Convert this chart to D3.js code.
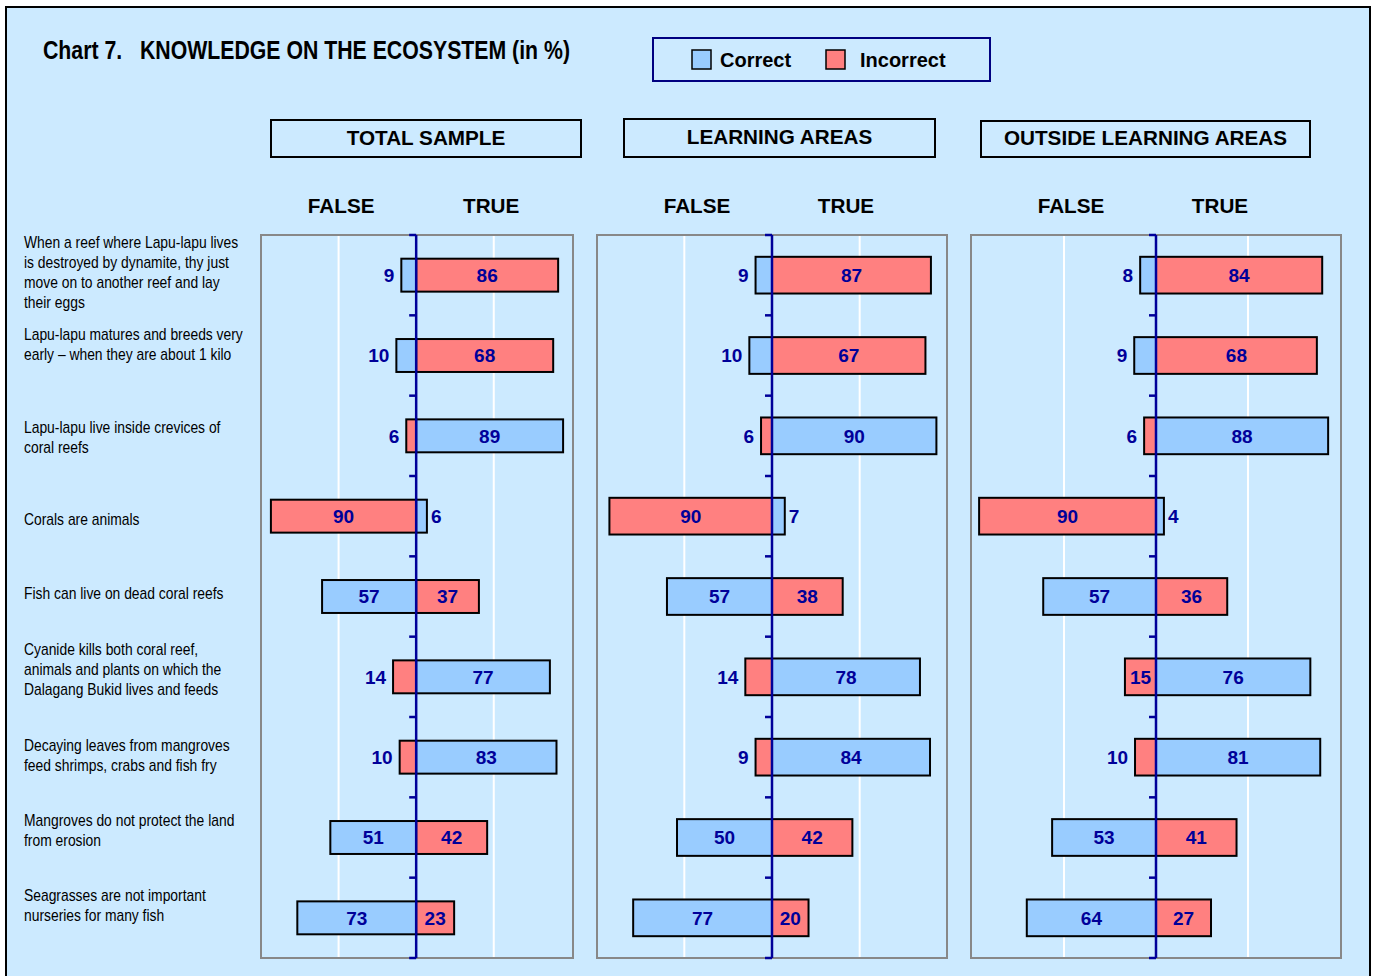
<!DOCTYPE html>
<html>
<head>
<meta charset="utf-8">
<script src="https://cdn.jsdelivr.net/npm/d3@7"></script>
<style>
  body { margin: 0; background: #fff; }
  svg { display: block; }
</style>
</head>
<body>
<svg id="chart" width="1379" height="976"></svg>
<script>
// statements (one per row), split in lines
var statements = [
    ["When a reef where Lapu-lapu lives", "is destroyed by dynamite, thy just", "move on to another reef and lay", "their eggs"],
    ["Lapu-lapu matures and breeds very", "early \u2013 when they are about 1 kilo"],
    ["Lapu-lapu live inside crevices of", "coral reefs"],
    ["Corals are animals"],
    ["Fish can live on dead coral reefs"],
    ["Cyanide kills both coral reef,", "animals and plants on which the", "Dalagang Bukid lives and feeds"],
    ["Decaying leaves from mangroves", "feed shrimps, crabs and fish fry"],
    ["Mangroves do not protect the land", "from erosion"],
    ["Seagrasses are not important", "nurseries for many fish"]
];

// is the right answer TRUE ?
var answerTrue = [false, false, true, true, false, true, true, false, false];

// % answering FALSE / TRUE (printed labels)
var totalFalse = [9, 10, 6, 90, 57, 14, 10, 51, 73];
var totalTrue = [86, 68, 89, 6, 37, 77, 83, 42, 23];
var learningFalse = [9, 10, 6, 90, 57, 14, 9, 50, 77];
var learningTrue = [87, 67, 90, 7, 38, 78, 84, 42, 20];
var outsideFalse = [8, 9, 6, 90, 57, 15, 10, 53, 64];
var outsideTrue = [84, 68, 88, 4, 36, 76, 81, 41, 27];

// bar lengths as drawn in the source chart (some differ from the printed labels)
var totalFalseBar = [9, 12, 6, 88, 57, 14, 10, 52, 72];
var totalTrueBar = [86, 83, 89, 6.5, 38, 81, 85, 43, 23];
var learningFalseBar = [9, 12.4, 6, 89, 57.5, 14.6, 9, 52, 76];
var learningTrueBar = [87, 84, 90, 7, 38.7, 81, 86.5, 44, 20];
var outsideFalseBar = [8, 11, 6, 89.4, 57, 15.7, 10.6, 52.5, 65.3];
var outsideTrueBar = [84, 81.3, 87, 4, 36, 78, 83, 40.7, 27.8];

var panelTitles = ["TOTAL SAMPLE", "LEARNING AREAS", "OUTSIDE LEARNING AREAS"];
var legendLabels = ["Correct", "Incorrect"];
var sideLabels = ["FALSE", "TRUE"];

var CORRECT = "#99ccff", WRONG = "#ff8080", NAVY = "#000099";
var BG = "#cceaff";
var FONT = "'Liberation Sans', Arial, sans-serif";

var svg = d3.select("#chart");

// outer frame
svg.append("rect")
    .attr("x", 6).attr("y", 7)
    .attr("width", 1364).attr("height", 990)
    .attr("fill", BG)
    .attr("stroke", "#000").attr("stroke-width", 2);

// title (narrow bold face -> squeeze Liberation Sans)
svg.append("text")
    .attr("x", 43).attr("y", 59)
    .attr("font-family", FONT)
    .attr("font-weight", "bold")
    .attr("font-size", 25)
    .attr("fill", "#000")
    .attr("xml:space", "preserve")
    .attr("textLength", 527)
    .attr("lengthAdjust", "spacingAndGlyphs")
    .text("Chart 7.   KNOWLEDGE ON THE ECOSYSTEM (in %)");

// legend
var legend = svg.append("g");
legend.append("rect")
    .attr("x", 653).attr("y", 38).attr("width", 337).attr("height", 43)
    .attr("fill", BG).attr("stroke", "#000080").attr("stroke-width", 2);
var legX = [692, 826], legTx = [720, 860];
legendLabels.forEach(function(l, i) {
    legend.append("rect")
        .attr("x", legX[i]).attr("y", 50).attr("width", 19).attr("height", 19)
        .attr("fill", i == 0 ? CORRECT : WRONG)
        .attr("stroke", "#000").attr("stroke-width", 1.5);
    legend.append("text")
        .attr("x", legTx[i]).attr("y", 67)
        .attr("font-family", FONT)
        .attr("font-weight", "bold").attr("font-size", 20)
        .text(l);
});

// plot area (same rows for the 3 panels)
var plotTop = 235, plotBottom = 958;
var y = d3.scaleBand()
    .domain(d3.range(statements.length))
    .range([plotTop, plotBottom]);

// statement labels (narrow face -> horizontal squeeze)
var labelNudge = [-2.5, -11, 1.5, 3.5, -3, -7.5, -1.5, -7, -12];
var lineH = 20;
var lab = svg.append("g")
    .attr("transform", "translate(24,0) scale(0.884,1)")
    .attr("font-family", FONT)
    .attr("font-size", 15.7)
    .attr("fill", "#000");
statements.forEach(function(lines, i) {
    var cy = y(i) + y.bandwidth() / 2 + labelNudge[i] - (lines.length - 1) * lineH / 2;
    lines.forEach(function(t, k) {
        lab.append("text")
            .attr("x", 0)
            .attr("y", cy + k * lineH)
            .attr("dy", "0.35em")
            .text(t);
    });
});

var panels = [
    { left: 261, right: 573, dom: [-94, 95], grid: 47, bar: 0.41, box: [271, 120, 310, 37], side: [-75, 75],
      f: totalFalse, t: totalTrue, fb: totalFalseBar, tb: totalTrueBar },
    { left: 597, right: 947, dom: [-95.8, 95.8], grid: 48, bar: 0.457, box: [624, 119, 311, 38], side: [-75, 74],
      f: learningFalse, t: learningTrue, fb: learningFalseBar, tb: learningTrueBar },
    { left: 971, right: 1341, dom: [-93.5, 93.5], grid: 46.5, bar: 0.457, box: [981, 121, 329, 36], side: [-85, 64],
      f: outsideFalse, t: outsideTrue, fb: outsideFalseBar, tb: outsideTrueBar }
];

panels.forEach(function(p, pi) {
    var g = svg.append("g");
    var x = d3.scaleLinear().domain(p.dom).range([p.left, p.right]);
    var zero = x(0);

    // header box
    g.append("rect")
        .attr("x", p.box[0]).attr("y", p.box[1])
        .attr("width", p.box[2]).attr("height", p.box[3])
        .attr("fill", BG).attr("stroke", "#000").attr("stroke-width", 2);
    g.append("text")
        .attr("x", p.box[0] + p.box[2] / 2)
        .attr("y", p.box[1] + p.box[3] / 2)
        .attr("dy", "0.3em")
        .attr("text-anchor", "middle")
        .attr("font-family", FONT)
        .attr("font-weight", "bold").attr("font-size", 20.7)
        .text(panelTitles[pi]);

    // FALSE / TRUE
    sideLabels.forEach(function(s, k) {
        g.append("text")
            .attr("x", zero + p.side[k]).attr("y", 213)
            .attr("text-anchor", "middle")
            .attr("font-family", FONT)
            .attr("font-weight", "bold").attr("font-size", 20.7)
            .text(s);
    });

    // plot background + grid
    g.append("rect")
        .attr("x", p.left).attr("y", plotTop)
        .attr("width", p.right - p.left).attr("height", plotBottom - plotTop)
        .attr("fill", BG);
    g.selectAll(".grid")
        .data([-p.grid, p.grid])
        .enter().append("line")
        .attr("x1", function(d) { return x(d); })
        .attr("x2", function(d) { return x(d); })
        .attr("y1", plotTop).attr("y2", plotBottom)
        .attr("stroke", "#fff").attr("stroke-width", 2);
    g.append("rect")
        .attr("x", p.left).attr("y", plotTop)
        .attr("width", p.right - p.left).attr("height", plotBottom - plotTop)
        .attr("fill", "none").attr("stroke", "#888").attr("stroke-width", 2);

    var bh = y.bandwidth() * p.bar;

    // bars: FALSE side to the left, TRUE side to the right
    var segs = [];
    d3.range(statements.length).forEach(function(i) {
        var ok = answerTrue[i];
        segs.push({ i: i, v: p.f[i], len: p.fb[i], side: -1, fill: ok ? WRONG : CORRECT });
        segs.push({ i: i, v: p.t[i], len: p.tb[i], side: 1, fill: ok ? CORRECT : WRONG });
    });

    g.selectAll(".bar")
        .data(segs)
        .enter().append("rect")
        .attr("x", function(d) { return d.side < 0 ? x(-d.len) : zero; })
        .attr("y", function(d) { return y(d.i) + (y.bandwidth() - bh) / 2; })
        .attr("width", function(d) { return d.side < 0 ? zero - x(-d.len) : x(d.len) - zero; })
        .attr("height", bh)
        .attr("fill", function(d) { return d.fill; })
        .attr("stroke", "#000").attr("stroke-width", 2);

    // value labels: inside the bar, or just outside for small ones
    g.selectAll(".val")
        .data(segs)
        .enter().append("text")
        .attr("x", function(d) {
            var end = d.side < 0 ? x(-d.len) : x(d.len);
            if (d.v >= 15) return (zero + end) / 2;
            return d.side < 0 ? end - 7 : end + 4;
        })
        .attr("y", function(d) { return y(d.i) + y.bandwidth() / 2; })
        .attr("dy", "0.36em")
        .attr("text-anchor", function(d) {
            if (d.v >= 15) return "middle";
            return d.side < 0 ? "end" : "start";
        })
        .attr("font-family", FONT)
        .attr("font-weight", "bold").attr("font-size", 19)
        .attr("fill", NAVY)
        .text(function(d) { return d.v; });

    // zero axis with ticks between rows
    g.append("line")
        .attr("x1", zero).attr("x2", zero)
        .attr("y1", plotTop).attr("y2", plotBottom)
        .attr("stroke", NAVY).attr("stroke-width", 2.5);
    g.selectAll(".tk")
        .data(d3.range(statements.length + 1))
        .enter().append("line")
        .attr("x1", zero - 7).attr("x2", zero)
        .attr("y1", function(d) { return plotTop + d * y.step(); })
        .attr("y2", function(d) { return plotTop + d * y.step(); })
        .attr("stroke", NAVY).attr("stroke-width", 2.5);
});
</script>
</body>
</html>
